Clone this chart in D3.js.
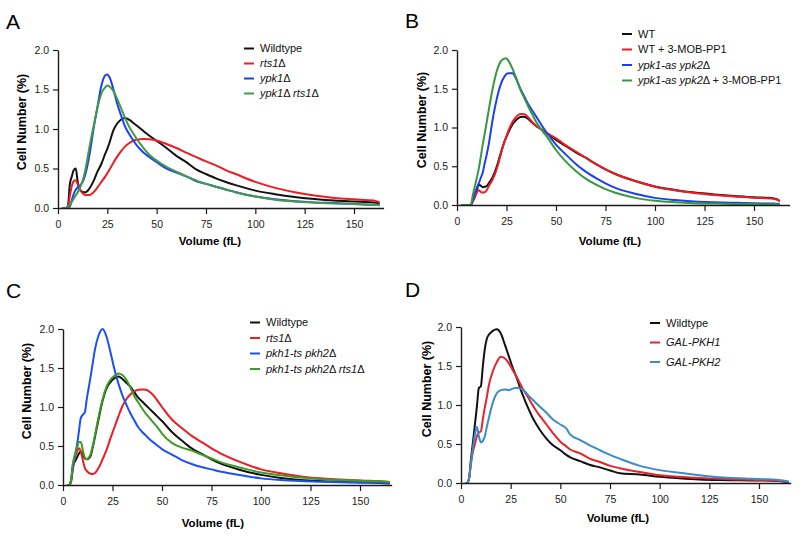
<!DOCTYPE html>
<html>
<head>
<meta charset="utf-8">
<script src="https://cdn.jsdelivr.net/npm/d3@7"></script>
<style>
  body { margin: 0; background: #fff; }
  svg { font-family: "Liberation Sans", Arial, sans-serif; }
</style>
</head>
<body>
<svg id="chart" width="800" height="537"></svg>
<script>
// shared ticks
var xTicks = [0, 25, 50, 75, 100, 125, 150];
var yTicks = [0, 0.5, 1.0, 1.5, 2.0];

// ---- panel A ----
var volA = [2,4,5,6,7,8,9,10,11,12,13,14,16,18,20,22,24,25,26,28,30,32,34,36,38,40,43,46,50,55,60,65,70,75,80,85,90,100,110,120,130,140,150,160,163];
var wildtypeA = [0,0,0.02,0.3,0.4,0.48,0.5,0.33,0.23,0.21,0.2,0.2,0.25,0.34,0.46,0.56,0.69,0.75,0.82,0.98,1.07,1.12,1.14,1.12,1.08,1.04,0.98,0.92,0.85,0.76,0.66,0.58,0.49,0.43,0.375,0.33,0.29,0.22,0.175,0.14,0.115,0.095,0.082,0.07,0.06];
var rts1A = [0,0,0.02,0.15,0.28,0.34,0.35,0.3,0.24,0.2,0.175,0.165,0.165,0.2,0.26,0.33,0.4,0.44,0.48,0.57,0.65,0.72,0.78,0.82,0.85,0.865,0.875,0.87,0.855,0.81,0.76,0.7,0.645,0.59,0.54,0.48,0.43,0.33,0.255,0.2,0.158,0.128,0.11,0.095,0.07];
var ypk1A = [0,0,0,0.02,0.1,0.18,0.23,0.26,0.28,0.31,0.36,0.44,0.68,1.0,1.28,1.55,1.68,1.69,1.66,1.51,1.32,1.17,1.03,0.94,0.86,0.79,0.71,0.65,0.58,0.5,0.45,0.4,0.34,0.305,0.27,0.235,0.2,0.145,0.11,0.085,0.07,0.062,0.052,0.042,0.04];
var ypk1Rts1A = [0,0,0.01,0.04,0.08,0.12,0.16,0.2,0.25,0.31,0.39,0.5,0.78,1.03,1.27,1.45,1.53,1.55,1.54,1.48,1.38,1.26,1.14,1.03,0.95,0.87,0.77,0.68,0.6,0.52,0.46,0.4,0.35,0.305,0.27,0.235,0.2,0.145,0.105,0.082,0.068,0.058,0.05,0.04,0.035];

// ---- panel B ----
var volB = [2,5,7,8,9,10,11,12,13,14,15,16,18,20,22,24,25,26,28,30,32,34,36,38,40,43,46,50,55,60,65,70,75,80,90,100,110,120,130,140,150,160,162,163];
var wtB = [0,0,0,0.05,0.11,0.19,0.26,0.25,0.23,0.235,0.245,0.28,0.36,0.49,0.66,0.82,0.88,0.94,1.04,1.1,1.135,1.14,1.11,1.06,1.02,0.97,0.91,0.84,0.76,0.68,0.61,0.53,0.46,0.4,0.31,0.24,0.195,0.16,0.135,0.115,0.1,0.085,0.07,0.05];
var wtMobB = [0,0,0,0.05,0.1,0.16,0.19,0.17,0.16,0.165,0.19,0.24,0.33,0.46,0.64,0.82,0.89,0.96,1.07,1.14,1.175,1.17,1.13,1.07,1.02,0.97,0.92,0.86,0.77,0.69,0.61,0.53,0.46,0.4,0.31,0.235,0.19,0.155,0.13,0.11,0.095,0.08,0.065,0.05];
var ypkAsB = [0,0,0,0.07,0.15,0.22,0.28,0.35,0.42,0.54,0.65,0.78,1.1,1.36,1.55,1.66,1.69,1.7,1.7,1.62,1.5,1.4,1.3,1.22,1.14,1.02,0.91,0.78,0.65,0.53,0.43,0.35,0.28,0.22,0.145,0.092,0.063,0.045,0.035,0.028,0.022,0.018,0.015,0.015];
var ypkAsMobB = [0,0,0,0.13,0.24,0.35,0.47,0.62,0.78,0.92,1.07,1.22,1.5,1.72,1.85,1.89,1.89,1.86,1.76,1.63,1.49,1.38,1.27,1.17,1.07,0.96,0.86,0.71,0.56,0.44,0.34,0.265,0.205,0.158,0.092,0.055,0.036,0.024,0.018,0.014,0.012,0.01,0.01,0.01];

// ---- panel C ----
var volC = [2,3,4,5,6,7,8,9,10,11,12,13,14,15,16,18,20,22,24,26,28,30,32,34,36,38,40,42,44,46,48,50,55,60,65,70,75,80,90,100,110,120,130,140,150,160,165];
var wildtypeC = [0,0,0.03,0.25,0.3,0.35,0.4,0.43,0.39,0.34,0.33,0.34,0.38,0.48,0.6,0.85,1.08,1.24,1.32,1.37,1.39,1.36,1.31,1.26,1.19,1.12,1.07,1.02,0.97,0.92,0.87,0.82,0.68,0.57,0.47,0.4,0.33,0.27,0.19,0.13,0.09,0.065,0.05,0.04,0.033,0.027,0.02];
var rts1C = [0,0,0.05,0.2,0.35,0.42,0.47,0.43,0.32,0.22,0.18,0.155,0.145,0.14,0.15,0.22,0.33,0.45,0.6,0.74,0.88,1.01,1.1,1.16,1.2,1.22,1.225,1.22,1.19,1.14,1.07,1.0,0.84,0.73,0.63,0.55,0.47,0.4,0.29,0.2,0.15,0.11,0.085,0.07,0.057,0.048,0.04];
var pkhC = [0,0,0.05,0.22,0.38,0.5,0.68,0.86,0.9,0.93,1.1,1.25,1.4,1.56,1.72,1.92,2.0,1.9,1.7,1.48,1.3,1.15,1.03,0.92,0.83,0.74,0.68,0.63,0.58,0.54,0.5,0.46,0.39,0.32,0.27,0.23,0.2,0.17,0.125,0.085,0.063,0.05,0.042,0.036,0.032,0.028,0.025];
var pkhRts1C = [0,0,0.05,0.28,0.38,0.47,0.55,0.55,0.45,0.35,0.33,0.35,0.4,0.5,0.62,0.88,1.1,1.26,1.35,1.4,1.43,1.41,1.35,1.25,1.14,1.06,0.98,0.91,0.85,0.79,0.73,0.66,0.54,0.48,0.44,0.39,0.34,0.29,0.22,0.16,0.125,0.095,0.075,0.063,0.055,0.047,0.04];

// ---- panel D ----
var volD = [2,3,4,5,6,7,8,9,10,11,12,13,14,16,18,20,22,24,26,28,30,32,34,36,38,40,43,46,50,53,55,60,65,70,75,80,90,100,110,120,130,140,150,160,165];
var wildtypeD = [0,0,0.05,0.3,0.52,0.75,0.98,1.22,1.24,1.5,1.72,1.85,1.9,1.95,1.97,1.92,1.78,1.63,1.48,1.35,1.2,1.07,0.95,0.84,0.75,0.67,0.57,0.49,0.42,0.36,0.33,0.28,0.23,0.2,0.16,0.125,0.11,0.08,0.06,0.045,0.038,0.035,0.032,0.025,0.01];
var galPkh1D = [0,0,0.05,0.25,0.4,0.5,0.6,0.65,0.66,0.82,0.97,1.1,1.25,1.43,1.55,1.62,1.6,1.54,1.45,1.36,1.26,1.17,1.09,1.0,0.92,0.85,0.75,0.65,0.53,0.47,0.43,0.38,0.31,0.27,0.22,0.19,0.14,0.1,0.08,0.065,0.055,0.045,0.04,0.03,0.01];
var galPkh2D = [0,0,0.05,0.25,0.45,0.62,0.72,0.6,0.52,0.54,0.6,0.72,0.83,1.03,1.15,1.19,1.2,1.19,1.21,1.22,1.21,1.18,1.12,1.07,1.02,0.97,0.9,0.82,0.75,0.7,0.62,0.55,0.48,0.42,0.36,0.31,0.22,0.165,0.13,0.1,0.075,0.06,0.05,0.04,0.02];

// legend labels: pieces of [text, italic]
var labelsA = [[["Wildtype",0]], [["rts1",1],["Δ",0]], [["ypk1",1],["Δ",0]], [["ypk1",1],["Δ ",0],["rts1",1],["Δ",0]]];
var labelsB = [[["WT",0]], [["WT + 3-MOB-PP1",0]], [["ypk1-as ypk2",1],["Δ",0]], [["ypk1-as ypk2",1],["Δ + 3-MOB-PP1",0]]];
var labelsC = [[["Wildtype",0]], [["rts1",1],["Δ",0]], [["pkh1-ts pkh2",1],["Δ",0]], [["pkh1-ts pkh2",1],["Δ ",0],["rts1",1],["Δ",0]]];
var labelsD = [[["Wildtype",0]], [["GAL-PKH1",1]], [["GAL-PKH2",1]]];

var panels = [
  { letter: "A", lx: 6, ly: 29, x0: 58, x150: 354, xEnd: 165, y0: 208, y2: 50,
    vol: volA, series: [wildtypeA, rts1A, ypk1A, ypk1Rts1A], labels: labelsA,
    colors: ["#111111", "#ec1c24", "#1d3ff2", "#43994a"],
    legX: 244, legY: 52, legDy: 15, yTitleX: 26, yTitleY: 122, xTitleX: 210, xTitleY: 245 },
  { letter: "B", lx: 405, ly: 28, x0: 457, x150: 754, xEnd: 168, y0: 205, y2: 50,
    vol: volB, series: [wtB, wtMobB, ypkAsB, ypkAsMobB], labels: labelsB,
    colors: ["#111111", "#ec1c24", "#1d3ff2", "#35993e"],
    legX: 622, legY: 37.5, legDy: 15.5, yTitleX: 426, yTitleY: 120, xTitleX: 610, xTitleY: 245 },
  { letter: "C", lx: 6, ly: 298, x0: 63, x150: 360, xEnd: 166, y0: 485, y2: 329,
    vol: volC, series: [wildtypeC, rts1C, pkhC, pkhRts1C], labels: labelsC,
    colors: ["#111111", "#ec1c24", "#1d4ff2", "#3e9c22"],
    legX: 250, legY: 326, legDy: 15.5, yTitleX: 31, yTitleY: 391, xTitleX: 213, xTitleY: 527 },
  { letter: "D", lx: 405, ly: 297, x0: 461, x150: 759, xEnd: 166, y0: 483, y2: 327,
    vol: volD, series: [wildtypeD, galPkh1D, galPkh2D], labels: labelsD,
    colors: ["#111111", "#e6232b", "#3b8bc9"],
    legX: 650, legY: 326.5, legDy: 19.5, yTitleX: 431, yTitleY: 389, xTitleX: 618, xTitleY: 522 }
];

var svg = d3.select("#chart");

panels.forEach(function (p) {
  var g = svg.append("g");
  var x = d3.scaleLinear()
    .domain([0, p.xEnd])
    .range([p.x0, p.x0 + (p.x150 - p.x0) * p.xEnd / 150]);
  var y = d3.scaleLinear().domain([0, 2]).range([p.y0, p.y2]);

  // curves
  var line = d3.line()
    .x(function (d) { return x(d[0]); })
    .y(function (d) { return y(d[1]); })
    .curve(d3.curveMonotoneX);

  p.series.forEach(function (vals, i) {
    g.append("path")
      .datum(p.vol.map(function (v, j) { return [v, vals[j]]; }))
      .attr("d", line)
      .attr("fill", "none")
      .attr("stroke", p.colors[i])
      .attr("stroke-width", 2)
      .attr("stroke-linejoin", "round");
  });

  // axes
  var xAxis = g.append("g")
    .attr("transform", "translate(0," + p.y0 + ")")
    .call(d3.axisBottom(x).tickValues(xTicks).tickSize(6).tickPadding(7).tickSizeOuter(0));
  var yAxis = g.append("g")
    .attr("transform", "translate(" + p.x0 + ",0)")
    .call(d3.axisLeft(y).tickValues(yTicks).tickFormat(d3.format(".1f")).tickSize(5).tickPadding(4).tickSizeOuter(0));
  [xAxis, yAxis].forEach(function (a) {
    a.select(".domain").attr("stroke", "#1a1a1a").attr("stroke-width", 1.4);
    a.selectAll(".tick line").attr("stroke", "#1a1a1a").attr("stroke-width", 1.2);
    a.selectAll(".tick text").attr("fill", "#222").style("font-size", "10.5px")
      .style("font-family", "'Liberation Sans', Arial, sans-serif");
  });

  // titles
  g.append("text")
    .attr("x", p.xTitleX).attr("y", p.xTitleY)
    .attr("text-anchor", "middle")
    .style("font-size", "11.5px").style("font-weight", "bold")
    .text("Volume (fL)");
  g.append("text")
    .attr("transform", "translate(" + p.yTitleX + "," + p.yTitleY + ")rotate(-90)")
    .attr("text-anchor", "middle")
    .style("font-size", "12.5px").style("font-weight", "bold")
    .text("Cell Number (%)");
  g.append("text")
    .attr("x", p.lx).attr("y", p.ly)
    .style("font-size", "21px")
    .text(p.letter);

  // legend
  p.labels.forEach(function (pieces, i) {
    var ly = p.legY + i * p.legDy;
    g.append("line")
      .attr("x1", p.legX).attr("x2", p.legX + 10)
      .attr("y1", ly - 3.5).attr("y2", ly - 3.5)
      .attr("stroke", p.colors[i]).attr("stroke-width", 2);
    var t = g.append("text")
      .attr("x", p.legX + 16).attr("y", ly)
      .style("font-size", "11px").attr("fill", "#111");
    pieces.forEach(function (pc) {
      t.append("tspan")
        .style("font-style", pc[1] ? "italic" : "normal")
        .text(pc[0]);
    });
  });
});
</script>
</body>
</html>
